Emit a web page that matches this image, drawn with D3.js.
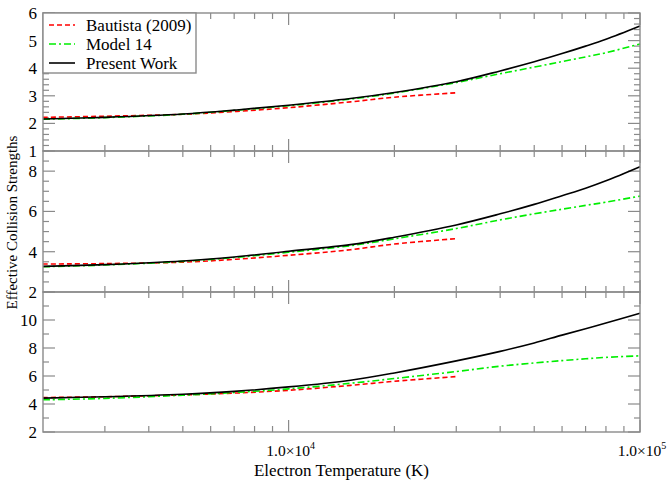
<!DOCTYPE html>
<html>
<head>
<meta charset="utf-8">
<script src="https://cdn.jsdelivr.net/npm/d3@7"></script>
<style>
  body { margin: 0; background: #fff; }
</style>
</head>
<body>
<svg width="667" height="485"></svg>
<script>
// electron temperatures (K)
const temps = [2000, 3000, 5000, 7000, 10000, 15000, 20000, 30000, 40000, 50000, 60000, 70000, 80000, 100000];
const tempsBautista = [2000, 3000, 5000, 7000, 10000, 15000, 20000, 30000];

// top panel
const presentA  = [2.16, 2.22, 2.34, 2.48, 2.66, 2.90, 3.12, 3.51, 3.90, 4.23, 4.53, 4.80, 5.05, 5.53];
const model14A  = [2.15, 2.21, 2.33, 2.47, 2.64, 2.88, 3.10, 3.48, 3.80, 4.04, 4.24, 4.41, 4.56, 4.88];
const bautistaA = [2.22, 2.26, 2.33, 2.43, 2.57, 2.78, 2.95, 3.11];

// middle panel
const presentB  = [3.27, 3.36, 3.54, 3.74, 4.02, 4.35, 4.72, 5.33, 5.88, 6.35, 6.78, 7.15, 7.52, 8.22];
const model14B  = [3.25, 3.34, 3.52, 3.71, 3.97, 4.30, 4.64, 5.15, 5.58, 5.88, 6.11, 6.30, 6.46, 6.76];
const bautistaB = [3.39, 3.41, 3.48, 3.62, 3.82, 4.10, 4.38, 4.65];

// bottom panel
const presentC  = [4.42, 4.52, 4.70, 4.90, 5.22, 5.70, 6.22, 7.08, 7.76, 8.36, 8.92, 9.37, 9.78, 10.48];
const model14C  = [4.30, 4.40, 4.63, 4.82, 5.08, 5.48, 5.82, 6.32, 6.70, 6.93, 7.10, 7.23, 7.33, 7.44];
const bautistaC = [4.46, 4.52, 4.65, 4.78, 4.98, 5.33, 5.62, 5.96];

const seriesNames = ['Bautista (2009)', 'Model 14', 'Present Work'];
const xMajorTicks = [10000, 100000];
const xMinorTicks = [3000, 4000, 5000, 6000, 7000, 8000, 9000, 20000, 30000, 40000, 50000, 60000, 70000, 80000, 90000];

const panelData = [
  { domain: [1, 6],  major: 1, minor: 0.2, b: bautistaA, m: model14A, p: presentA, top: 13,  bottom: 151 },
  { domain: [2, 9],  major: 2, minor: 0.5, b: bautistaB, m: model14B, p: presentB, top: 151, bottom: 292 },
  { domain: [2, 12], major: 2, minor: 1,   b: bautistaC, m: model14C, p: presentC, top: 292, bottom: 432 }
];

const styles = [
  { color: '#ff0000', dash: '5,3' },
  { color: '#00ee00', dash: '7,3,2,3' },
  { color: '#000000', dash: null }
];

const left = 43, right = 640;
const frameColor = '#8a8a8a';
const serif = 'Liberation Serif';
const svg = d3.select('svg');

const x = d3.scaleLog().domain([2000, 100000]).range([left, right]);

function rangeTicks(d0, d1, step) {
  let out = [];
  let n = Math.round((d1 - d0) / step);
  for (let i = 0; i <= n; i++) out.push(+(d0 + i * step).toFixed(4));
  return out;
}

panelData.forEach((pd, idx) => {
  let y = d3.scaleLinear().domain(pd.domain).range([pd.bottom, pd.top]);
  let g = svg.append('g');

  // ticks
  let t = g.append('g').attr('stroke', frameColor).attr('stroke-width', 1.2);
  rangeTicks(pd.domain[0], pd.domain[1], pd.minor).forEach((v) => {
    let isMajor = Math.abs(v / pd.major - Math.round(v / pd.major)) < 1e-6;
    let len = isMajor ? 12 : 6;
    t.append('line').attr('x1', left).attr('x2', left + len).attr('y1', y(v)).attr('y2', y(v));
    t.append('line').attr('x1', right).attr('x2', right - len).attr('y1', y(v)).attr('y2', y(v));
  });
  xMinorTicks.concat(xMajorTicks).forEach((v) => {
    let len = xMajorTicks.includes(v) ? 12 : 6;
    t.append('line').attr('x1', x(v)).attr('x2', x(v)).attr('y1', pd.bottom).attr('y2', pd.bottom - len);
    t.append('line').attr('x1', x(v)).attr('x2', x(v)).attr('y1', pd.top).attr('y2', pd.top + len);
  });

  // y tick labels
  rangeTicks(pd.domain[0], pd.domain[1], pd.major).forEach((v) => {
    if (v > pd.domain[1]) return;
    if (idx == 2 && v == 12) return;
    g.append('text')
      .attr('x', left - 6)
      .attr('y', y(v))
      .attr('dy', '0.35em')
      .attr('text-anchor', 'end')
      .style('font-family', serif)
      .style('font-size', '17px')
      .text(v);
  });

  // lines
  let line = (xs) => d3.line().x((d, i) => x(xs[i])).y((d) => y(d)).curve(d3.curveCatmullRom);
  [[tempsBautista, pd.b], [temps, pd.m], [temps, pd.p]].forEach((s, k) => {
    g.append('path')
      .attr('d', line(s[0])(s[1]))
      .attr('fill', 'none')
      .attr('stroke', styles[k].color)
      .attr('stroke-width', 1.6)
      .attr('stroke-dasharray', styles[k].dash);
  });

  // frame
  g.append('rect')
    .attr('x', left).attr('y', pd.top)
    .attr('width', right - left).attr('height', pd.bottom - pd.top)
    .attr('fill', 'none').attr('stroke', frameColor).attr('stroke-width', 1.4);
});

// x tick labels
xMajorTicks.forEach((v) => {
  let txt = svg.append('text')
    .attr('x', x(v) + 2)
    .attr('y', 456)
    .attr('text-anchor', 'middle')
    .style('font-family', serif)
    .style('font-size', '15.5px');
  txt.append('tspan').text('1.0\u00d710');
  txt.append('tspan').attr('dy', -7).style('font-size', '10px').text(Math.round(Math.log10(v)));
});

// axis titles
svg.append('text')
  .attr('x', (left + right) / 2)
  .attr('y', 476)
  .attr('text-anchor', 'middle')
  .style('font-family', serif)
  .style('font-size', '17px')
  .text('Electron Temperature (K)');

svg.append('text')
  .attr('transform', 'translate(17,' + (13 + 432) / 2 + ') rotate(-90)')
  .attr('text-anchor', 'middle')
  .style('font-family', serif)
  .style('font-size', '15px')
  .text('Effective Collision Strengths');

// legend
let lg = svg.append('g');
lg.append('rect')
  .attr('x', left).attr('y', 13).attr('width', 153).attr('height', 60)
  .attr('fill', '#fff').attr('stroke', frameColor).attr('stroke-width', 1.4);
seriesNames.forEach((name, k) => {
  let yy = 25 + k * 19;
  lg.append('line')
    .attr('x1', 49).attr('x2', 75).attr('y1', yy).attr('y2', yy)
    .attr('stroke', styles[k].color).attr('stroke-width', 1.6)
    .attr('stroke-dasharray', styles[k].dash);
  lg.append('text')
    .attr('x', 86).attr('y', yy).attr('dy', '0.35em')
    .style('font-family', serif)
    .style('font-size', '17px')
    .text(name);
});
</script>
</body>
</html>
